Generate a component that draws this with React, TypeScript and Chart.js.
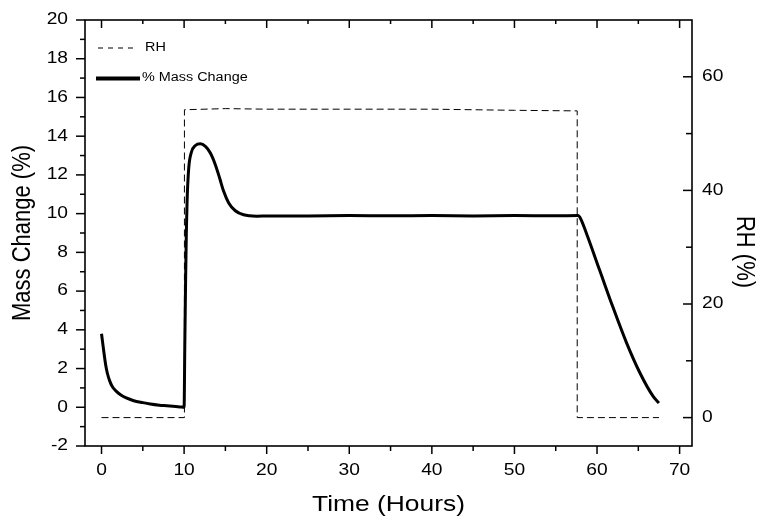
import React, { useEffect, useRef } from "react";
import { Chart, registerables } from "chart.js";

Chart.register(...registerables);

// ---- data ----
const massTime = [
  0, 0.15, 0.3, 0.5, 0.7, 1.0, 1.3, 1.8, 2.3, 3.0, 3.9, 5.0, 5.9, 7.0, 7.9, 9.0, 9.75, 10.0,
  10.08, 10.18, 10.27, 10.36, 10.56, 10.85, 11.37, 11.97, 12.58, 13.18, 13.78, 14.3,
  14.79, 15.4, 16.2, 17.2, 18.8, 20.2, 25, 30, 35, 40, 45, 50, 55, 57.7,
  58.0, 58.7, 60.3, 61.9, 63.6, 65.2, 66.8, 67.5,
];
const massValue = [
  3.8, 3.3, 2.8, 2.2, 1.77, 1.35, 1.07, 0.82, 0.65, 0.48, 0.34, 0.24, 0.17, 0.11, 0.08, 0.04, 0.01, 0.0,
  3.0, 6.5, 9.0, 10.63, 12.35, 13.13, 13.52, 13.61, 13.47, 13.13, 12.53, 11.84,
  11.15, 10.55, 10.15, 9.94, 9.87, 9.88, 9.88, 9.9, 9.89, 9.9, 9.88, 9.9, 9.89, 9.9,
  9.75, 9.0, 7.1, 5.2, 3.3, 1.77, 0.56, 0.22,
];
const rhTime = [0, 10.04, 10.04, 15, 20, 30, 40, 50, 57.6, 57.6, 67.5];
const rhValue = [0, 0, 54.2, 54.4, 54.3, 54.3, 54.3, 54.1, 54.0, 0, 0];

const xTicks = [0, 10, 20, 30, 40, 50, 60, 70];
const xMinorTicks = [5, 15, 25, 35, 45, 55, 65];
const yTicks = [-2, 0, 2, 4, 6, 8, 10, 12, 14, 16, 18, 20];
const yMinorTicks = [-1, 1, 3, 5, 7, 9, 11, 13, 15, 17, 19];
const rhTicks = [0, 20, 40, 60];
const rhMinorTicks = [10, 30, 50];

const xTitle = "Time (Hours)";
const yTitle = "Mass Change (%)";
const rhTitle = "RH (%)";
const legendLabels = ["RH", "% Mass Change"];

const FONT = "'Liberation Sans', Arial, sans-serif";
const STRETCH = 1.2; // the reference text is drawn horizontally widened

// widen the tick label text drawn by Chart.js's scales
const stretchPlugin = {
  id: "stretchText",
  beforeDraw(chart: any) {
    const ctx = chart.ctx;
    if (ctx.__origFillText) return;
    const orig = ctx.fillText;
    ctx.__origFillText = orig;
    ctx.fillText = function (t: string, x: number, y: number) {
      this.save();
      this.translate(x, y);
      this.scale(STRETCH, 1);
      orig.call(this, t, 0, 0);
      this.restore();
    };
  },
  beforeDatasetsDraw(chart: any) {
    const ctx = chart.ctx;
    if (ctx.__origFillText) {
      ctx.fillText = ctx.__origFillText;
      delete ctx.__origFillText;
    }
  },
};

const framePlugin = {
  id: "frame",
  afterDatasetsDraw(chart: any) {
    const { ctx, chartArea: a, scales } = chart;
    const xs = scales.x, ys = scales.y, rs = scales.y1;
    ctx.save();
    ctx.strokeStyle = "#000";
    ctx.lineWidth = 1.6;
    ctx.strokeRect(a.left, a.top, a.right - a.left, a.bottom - a.top);
    const line = (x1: number, y1: number, x2: number, y2: number) => {
      ctx.beginPath();
      ctx.moveTo(x1, y1);
      ctx.lineTo(x2, y2);
      ctx.stroke();
    };
    ctx.lineWidth = 1.5;
    xTicks.forEach((v) => {
      const p = xs.getPixelForValue(v);
      line(p, a.bottom, p, a.bottom + 8);
      line(p, a.top, p, a.top + 8);
    });
    xMinorTicks.forEach((v) => {
      const p = xs.getPixelForValue(v);
      line(p, a.bottom, p, a.bottom + 5);
      line(p, a.top, p, a.top + 4);
    });
    yTicks.forEach((v) => {
      const p = ys.getPixelForValue(v);
      line(a.left - 9, p, a.left, p);
    });
    yMinorTicks.forEach((v) => {
      const p = ys.getPixelForValue(v);
      line(a.left - 5, p, a.left, p);
    });
    rhTicks.forEach((v) => {
      const p = rs.getPixelForValue(v);
      line(a.right - 9, p, a.right, p);
    });
    rhMinorTicks.forEach((v) => {
      const p = rs.getPixelForValue(v);
      line(a.right - 6, p, a.right, p);
    });

    const text = (s: string, x: number, y: number, rot: number) => {
      ctx.save();
      ctx.translate(x, y);
      ctx.scale(STRETCH, 1);
      ctx.rotate(rot);
      ctx.fillText(s, 0, 0);
      ctx.restore();
    };

    // legend
    ctx.fillStyle = "#000";
    ctx.font = `12px ${FONT}`;
    ctx.textBaseline = "middle";
    ctx.textAlign = "left";
    ctx.lineWidth = 1;
    ctx.setLineDash([5, 5]);
    line(98, 48, 138, 48);
    ctx.setLineDash([]);
    text(legendLabels[0], 145, 48, 0);
    ctx.lineWidth = 4;
    line(96, 78.5, 140, 78.5);
    text(legendLabels[1], 142, 77.5, 0);

    // axis titles
    ctx.font = `22px ${FONT}`;
    ctx.textAlign = "center";
    text(xTitle, (a.left + a.right) / 2, 505, 0);
    text(yTitle, 23, (a.top + a.bottom) / 2, -Math.PI / 2);
    text(rhTitle, 744, 252, Math.PI / 2);
    ctx.restore();
  },
};

export default function App() {
  const ref = useRef<HTMLCanvasElement>(null);
  useEffect(() => {
    if (!ref.current) return;
    const chart = new Chart(ref.current, {
      type: "line",
      data: {
        datasets: [
          {
            label: legendLabels[0],
            data: rhTime.map((t, i) => ({ x: t, y: rhValue[i] })),
            yAxisID: "y1",
            borderColor: "#000",
            borderWidth: 1,
            borderDash: [7, 4],
            pointRadius: 0,
            tension: 0,
          },
          {
            label: legendLabels[1],
            data: massTime.map((t, i) => ({ x: t, y: massValue[i] })),
            yAxisID: "y",
            borderColor: "#000",
            borderWidth: 3,
            pointRadius: 0,
            cubicInterpolationMode: "monotone",
          },
        ],
      },
      options: {
        animation: false,
        responsive: true,
        maintainAspectRatio: false,
        layout: { padding: { top: 20, left: 0, right: 0, bottom: 0 } },
        plugins: { legend: { display: false }, tooltip: { enabled: false } },
        scales: {
          x: {
            type: "linear",
            position: "bottom",
            min: -2,
            max: 71.5,
            afterBuildTicks: (s: any) => {
              s.ticks = xTicks.map((v) => ({ value: v }));
            },
            afterFit: (s: any) => {
              s.height = 71;
              s.paddingLeft = 0;
              s.paddingRight = 0;
            },
            grid: { display: false, drawTicks: false },
            border: { display: false },
            ticks: {
              color: "#000",
              padding: 15,
              maxRotation: 0,
              font: { family: FONT, size: 16 },
              callback: (v: any) => String(v),
            },
          },
          y: {
            type: "linear",
            position: "left",
            min: -2,
            max: 20,
            afterBuildTicks: (s: any) => {
              s.ticks = yTicks.map((v) => ({ value: v }));
            },
            afterFit: (s: any) => {
              s.width = 85;
              s.paddingTop = 0;
              s.paddingBottom = 0;
            },
            grid: { display: false, drawTicks: false },
            border: { display: false },
            ticks: {
              color: "#000",
              padding: 17,
              font: { family: FONT, size: 16 },
              callback: (v: any) => String(v),
            },
          },
          y1: {
            type: "linear",
            position: "right",
            min: -5,
            max: 70,
            afterBuildTicks: (s: any) => {
              s.ticks = rhTicks.map((v) => ({ value: v }));
            },
            afterFit: (s: any) => {
              s.width = 65;
              s.paddingTop = 0;
              s.paddingBottom = 0;
            },
            grid: { display: false, drawTicks: false },
            border: { display: false },
            ticks: {
              color: "#000",
              padding: 10,
              font: { family: FONT, size: 16 },
              callback: (v: any) => String(v),
            },
          },
        },
      },
      plugins: [stretchPlugin, framePlugin],
    });
    return () => chart.destroy();
  }, []);
  return (
    <div style={{ position: "fixed", left: 0, top: 0, width: 757, height: 517, background: "#fff" }}>
      <canvas ref={ref} />
    </div>
  );
}
